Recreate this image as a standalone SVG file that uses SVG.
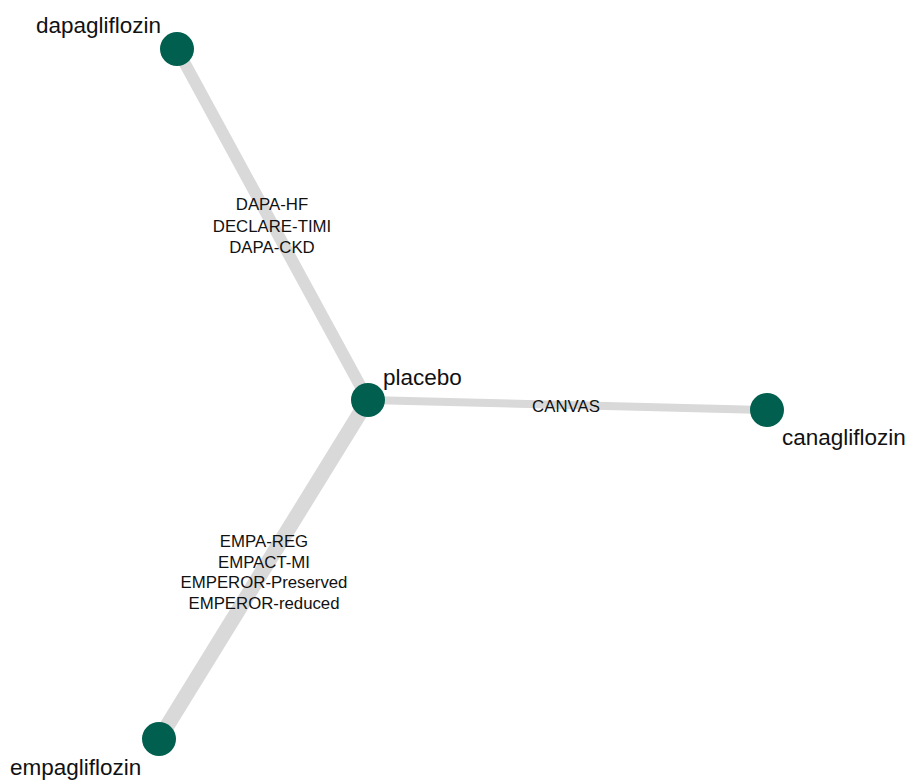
<svg xmlns="http://www.w3.org/2000/svg" width="905" height="783" viewBox="0 0 905 783">
<style>
.edge{stroke:#d9d9d9;stroke-linecap:butt;fill:none}
.node{fill:#005f4e}
.nl{font-family:"Liberation Sans",Arial,sans-serif;font-size:22.5px;fill:#111}
.el{font-family:"Liberation Sans",Arial,sans-serif;font-size:16.8px;fill:#111;text-anchor:middle}
</style>
<rect width="905" height="783" fill="#fff"/>
<g id="connectors">
<line class="edge" x1="177" y1="49" x2="368" y2="400" stroke-width="12"/>
<line class="edge" x1="368" y1="400" x2="159" y2="739" stroke-width="15"/>
<line class="edge" x1="368" y1="400" x2="767" y2="410" stroke-width="8"/>
<text class="el" x="272" y="210">DAPA-HF</text>
<text class="el" x="272" y="232">DECLARE-TIMI</text>
<text class="el" x="272" y="253">DAPA-CKD</text>
<text class="el" x="264" y="547">EMPA-REG</text>
<text class="el" x="264" y="568">EMPACT-MI</text>
<text class="el" x="264" y="588">EMPEROR-Preserved</text>
<text class="el" x="264" y="609">EMPEROR-reduced</text>
<text class="el" x="566" y="412">CANVAS</text>
</g>
<g id="dapagliflozin">
<circle class="node" cx="177" cy="49" r="17"/>
<text class="nl" x="36" y="33">dapagliflozin</text>
</g>
<g id="placebo">
<circle class="node" cx="368" cy="400" r="17"/>
<text class="nl" x="383" y="385">placebo</text>
</g>
<g id="canagliflozin">
<circle class="node" cx="767" cy="410" r="17"/>
<text class="nl" x="782" y="445">canagliflozin</text>
</g>
<g id="empagliflozin">
<circle class="node" cx="159" cy="739" r="17"/>
<text class="nl" x="10" y="775">empagliflozin</text>
</g>
</svg>
